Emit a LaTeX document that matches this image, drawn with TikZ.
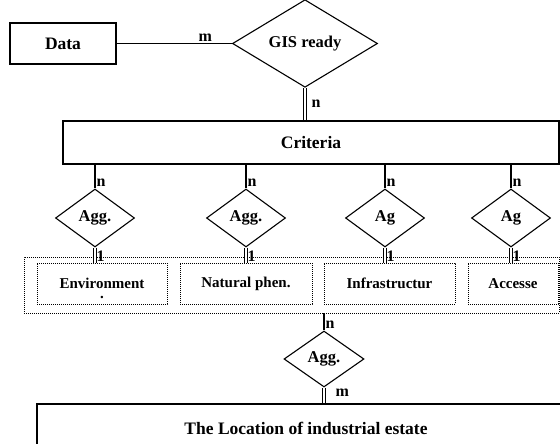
\documentclass[tikz,border=0pt]{standalone}
\usepackage{fontspec}
\setmainfont{Liberation Serif}
\usetikzlibrary{shapes.geometric}

\tikzset{
  entity/.style={draw, rectangle, line width=1.1pt, inner sep=0pt, font=\fontsize{17.5}{20}\selectfont\bfseries},
  relation/.style={draw, diamond, line width=1.1pt, inner sep=0pt, font=\fontsize{16.5}{19}\selectfont\bfseries},
  group/.style={draw, rectangle, line width=0.9pt, dash pattern=on 0.8pt off 1.2pt, inner sep=0pt, font=\fontsize{15}{18}\selectfont\bfseries},
  link/.style={line width=1.1pt},
  total/.style={double, line width=1pt, double distance=1.5pt},
  card/.style={font=\fontsize{16}{18}\selectfont\bfseries, inner sep=1pt},
}

\begin{document}
\begin{tikzpicture}[x=1pt, y=-1pt]
    \clip (0,0) rectangle (560,444);

    \node[entity, minimum width=106pt, minimum height=41pt] (data) at (63,43.5) {Data};
    \node[relation, minimum width=145pt, minimum height=71pt] (gis) at (305,43.5) {GIS ready};
    \node[entity, minimum width=496pt, minimum height=43pt] (criteria) at (311,142.5) {Criteria};

    \node[relation, minimum width=79pt, minimum height=58pt] (agg1) at (95,218) {Agg.};
    \node[relation, minimum width=79pt, minimum height=58pt] (agg2) at (246,218) {Agg.};
    \node[relation, minimum width=79pt, minimum height=58pt] (agg3) at (385,218) {Ag};
    \node[relation, minimum width=79pt, minimum height=58pt] (agg4) at (511,218) {Ag};

    \node[group, minimum width=535pt, minimum height=56pt] (factors) at (291.5,285) {};
    \node[group, minimum width=130pt, minimum height=41pt] (env) at (102,283.5)
      {\ooalign{Environment\cr\hidewidth\raisebox{-10pt}[0pt][0pt]{.}\hidewidth\cr}};
    \node[group, minimum width=132pt, minimum height=41pt] (nat) at (246,283.5) {Natural phen.};
    \node[group, minimum width=131pt, minimum height=41pt] (infra) at (389.5,283.5) {Infrastructur};
    \node[group, minimum width=90pt, minimum height=41pt] (acc) at (513,283.5) {Accesse};

    \node[relation, minimum width=80pt, minimum height=56pt] (agg) at (324,359) {Agg.};
    \node[entity, minimum width=538pt, minimum height=48pt] (location) at (306,428) {The Location of industrial estate};

    \draw[link] (data) -- node[card, above, pos=0.77] {m} (gis);
    \draw[total] (gis.south) -- node[card, right, xshift=5pt] {n} (gis.south |- criteria.north);

    \foreach \a/\b in {agg1/env, agg2/nat, agg3/infra, agg4/acc} {
      \draw[link] (\a.north |- criteria.south) -- (\a.north) node[card, above right] {n};
      \draw[total] (\a.south) -- node[card, right, pos=0.6] {1} (\a.south |- \b.north);
    }

    \draw[link] (agg.north |- factors.south) -- (agg.north) node[card, above right] {n};
    \draw[total] (agg.south) -- node[card, right=10pt, pos=0.35] {m} (agg.south |- location.north);
\end{tikzpicture}
\end{document}
